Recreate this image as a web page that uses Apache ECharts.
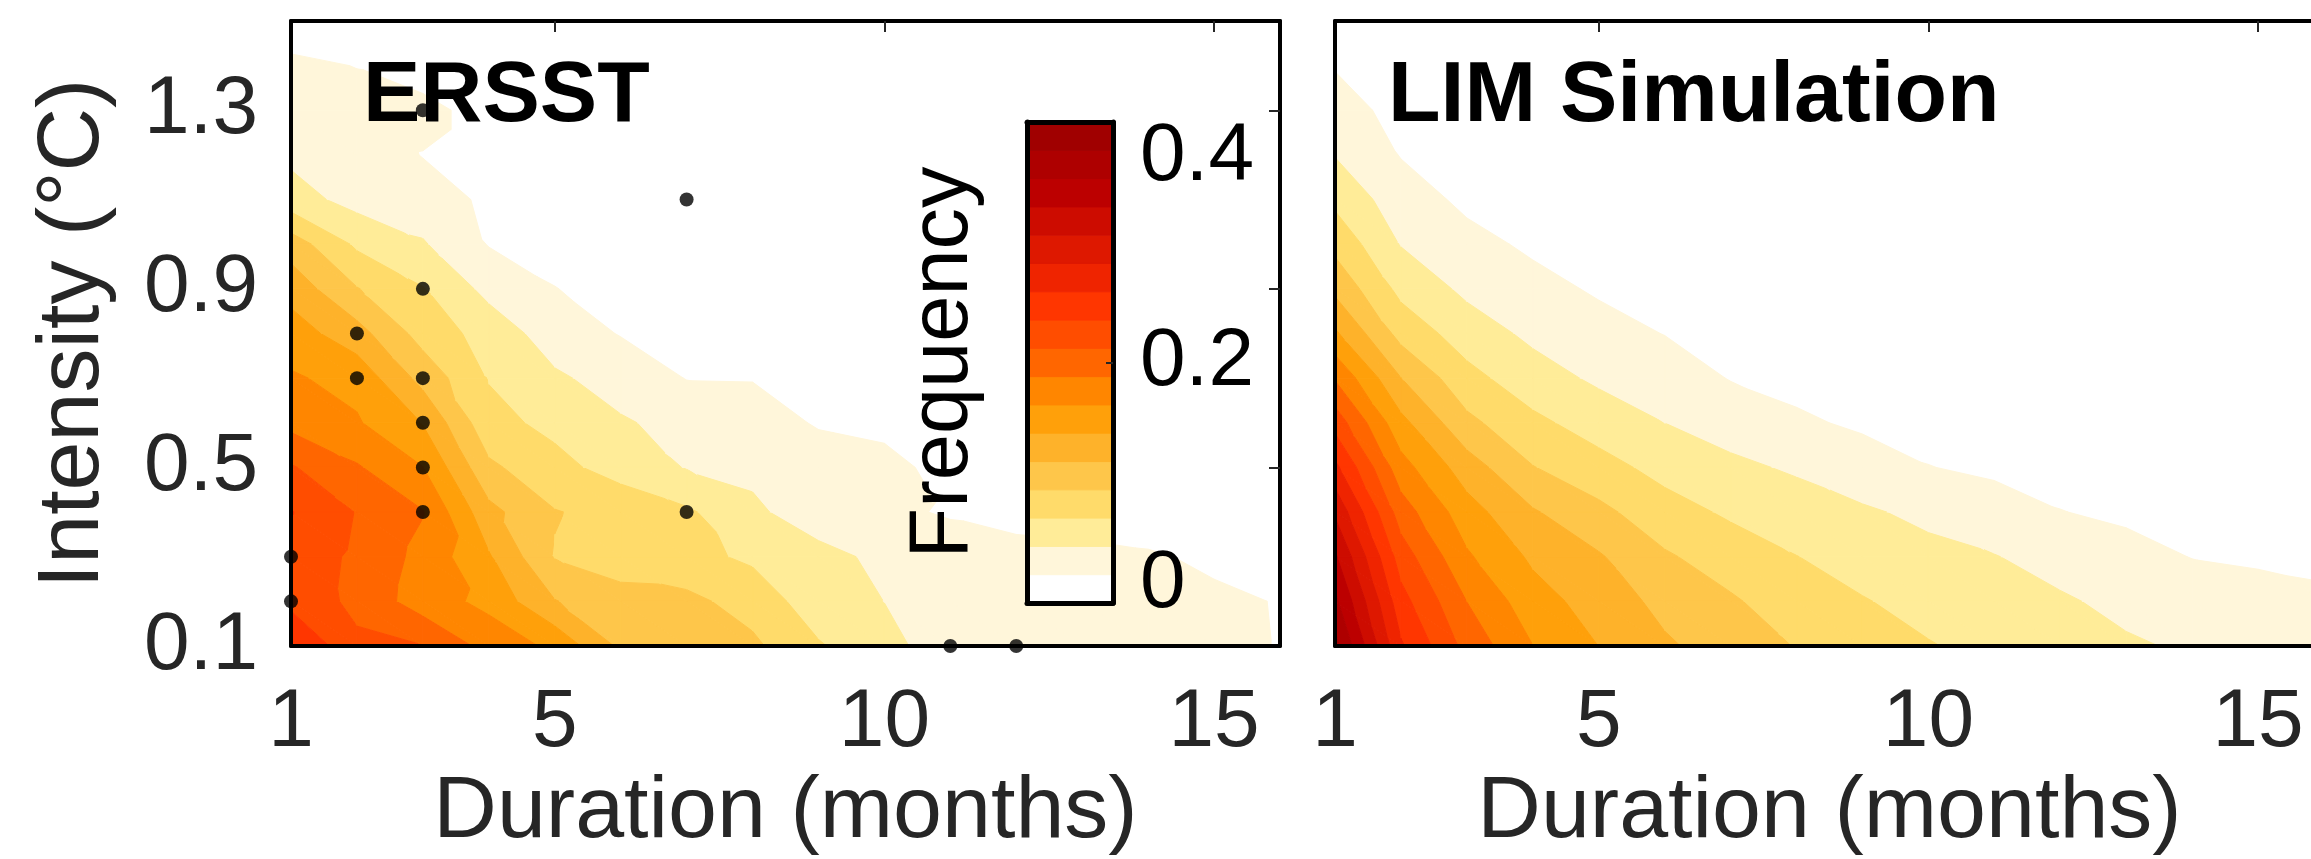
<!DOCTYPE html>
<html>
<head>
<meta charset="utf-8">
<title>ERSST vs LIM event frequency</title>
<script src="https://cdn.jsdelivr.net/npm/echarts@6.0.0/dist/echarts.min.js"></script>
<style>
  html, body { margin: 0; padding: 0; background: #fff; }
  #chart { width: 2311px; height: 859px; }
</style>
</head>
<body>
<div id="chart"></div>
<script>
// grid of the contour fields
var durations = [1, 2, 3, 4, 5, 6, 7, 8, 9, 10, 11, 12, 13, 14, 15, 16];
var intensities = [0.1, 0.2, 0.3, 0.4, 0.5, 0.6, 0.7, 0.8, 0.9, 1.0, 1.1, 1.2, 1.3, 1.4, 1.5];

// frequency, one row per intensity (0.1 first), one column per duration
var ersstFreq = [
  [0.2612, 0.2165, 0.2120, 0.1800, 0.1595, 0.1129, 0.1059, 0.0988, 0.0729, 0.0541, 0.0351, 0.0329, 0.0306, 0.0294, 0.0282, 0.0228],
  [0.2282, 0.2059, 0.1765, 0.1581, 0.1188, 0.1012, 0.1000, 0.0847, 0.0576, 0.0468, 0.0376, 0.0341, 0.0318, 0.0306, 0.0282, 0.0224],
  [0.2259, 0.2075, 0.1812, 0.1435, 0.0929, 0.0847, 0.0776, 0.0664, 0.0565, 0.0400, 0.0353, 0.0329, 0.0306, 0.0264, 0.0188, 0.0118],
  [0.2365, 0.2106, 0.1894, 0.1247, 0.0953, 0.0864, 0.0741, 0.0529, 0.0304, 0.0282, 0.0212, 0.0141, 0.0118, 0.0094, 0.0071, 0.0047],
  [0.2141, 0.1906, 0.1652, 0.0988, 0.0776, 0.0612, 0.0459, 0.0400, 0.0365, 0.0318, 0.0141, 0.0094, 0.0071, 0.0059, 0.0047, 0.0024],
  [0.1812, 0.1671, 0.1398, 0.0776, 0.0647, 0.0494, 0.0400, 0.0353, 0.0212, 0.0165, 0.0118, 0.0071, 0.0047, 0.0035, 0.0024, 0.0024],
  [0.1673, 0.1574, 0.1096, 0.0694, 0.0506, 0.0376, 0.0228, 0.0224, 0.0141, 0.0094, 0.0071, 0.0047, 0.0024, 0.0024, 0.0012, 0.0012],
  [0.1529, 0.1268, 0.0847, 0.0612, 0.0353, 0.0224, 0.0188, 0.0141, 0.0094, 0.0071, 0.0047, 0.0024, 0.0024, 0.0012, 0.0012, 0],
  [0.1322, 0.0953, 0.0718, 0.0400, 0.0240, 0.0165, 0.0118, 0.0094, 0.0071, 0.0047, 0.0024, 0.0024, 0.0012, 0.0012, 0, 0],
  [0.1066, 0.0664, 0.0492, 0.0224, 0.0165, 0.0118, 0.0094, 0.0071, 0.0047, 0.0024, 0.0024, 0.0012, 0.0012, 0, 0, 0],
  [0.0567, 0.0388, 0.0329, 0.0200, 0.0118, 0.0094, 0.0071, 0.0047, 0.0024, 0.0024, 0.0012, 0.0012, 0, 0, 0, 0],
  [0.0421, 0.0353, 0.0228, 0.0141, 0.0094, 0.0071, 0.0047, 0.0024, 0.0024, 0.0012, 0.0012, 0, 0, 0, 0, 0],
  [0.0353, 0.0329, 0.0306, 0.0141, 0.0094, 0.0071, 0.0047, 0.0024, 0.0012, 0.0012, 0, 0, 0, 0, 0, 0],
  [0.0294, 0.0228, 0.0118, 0.0094, 0.0071, 0.0047, 0.0024, 0.0012, 0.0012, 0, 0, 0, 0, 0, 0, 0],
  [0.0071, 0.0047, 0.0047, 0.0024, 0.0024, 0.0012, 0.0012, 0, 0, 0, 0, 0, 0, 0, 0, 0]
];

var limFreq = [
  [0.385, 0.262, 0.204, 0.165, 0.141, 0.121, 0.107, 0.093, 0.082, 0.072, 0.064, 0.057, 0.050, 0.044, 0.039, 0.035],
  [0.359, 0.244, 0.188, 0.151, 0.131, 0.111, 0.097, 0.082, 0.072, 0.063, 0.056, 0.050, 0.041, 0.034, 0.030, 0.027],
  [0.333, 0.224, 0.168, 0.137, 0.120, 0.097, 0.083, 0.071, 0.061, 0.053, 0.048, 0.038, 0.030, 0.023, 0.021, 0.019],
  [0.302, 0.200, 0.151, 0.120, 0.100, 0.080, 0.067, 0.058, 0.050, 0.042, 0.032, 0.024, 0.020, 0.017, 0.015, 0.013],
  [0.265, 0.174, 0.129, 0.095, 0.079, 0.063, 0.052, 0.044, 0.034, 0.024, 0.020, 0.017, 0.014, 0.012, 0.011, 0.009],
  [0.226, 0.148, 0.100, 0.076, 0.060, 0.047, 0.037, 0.027, 0.020, 0.017, 0.014, 0.012, 0.010, 0.009, 0.008, 0.007],
  [0.186, 0.118, 0.078, 0.057, 0.043, 0.035, 0.0225, 0.017, 0.014, 0.012, 0.010, 0.009, 0.007, 0.006, 0.005, 0.005],
  [0.145, 0.086, 0.059, 0.042, 0.031, 0.023, 0.016, 0.012, 0.010, 0.008, 0.007, 0.006, 0.005, 0.004, 0.004, 0.003],
  [0.112, 0.064, 0.042, 0.030, 0.021, 0.016, 0.011, 0.008, 0.007, 0.006, 0.005, 0.004, 0.004, 0.003, 0.003, 0.002],
  [0.087, 0.046, 0.030, 0.020, 0.015, 0.012, 0.008, 0.006, 0.005, 0.004, 0.003, 0.003, 0.003, 0.002, 0.002, 0.002],
  [0.065, 0.034, 0.019, 0.014, 0.011, 0.008, 0.006, 0.004, 0.003, 0.003, 0.002, 0.002, 0.002, 0.001, 0.001, 0.001],
  [0.046, 0.0225, 0.013, 0.010, 0.008, 0.006, 0.004, 0.003, 0.002, 0.002, 0.002, 0.001, 0.001, 0.001, 0.001, 0.001],
  [0.0335, 0.016, 0.009, 0.007, 0.005, 0.004, 0.003, 0.002, 0.002, 0.001, 0.001, 0.001, 0.001, 0.001, 0.001, 0.001],
  [0.022, 0.010, 0.006, 0.005, 0.004, 0.003, 0.002, 0.001, 0.001, 0.001, 0.001, 0.001, 0, 0, 0, 0],
  [0.014, 0.006, 0.004, 0.003, 0.002, 0.002, 0.001, 0.001, 0.001, 0.001, 0, 0, 0, 0, 0, 0]
];

// observed events marked with dots on the ERSST panel: [duration, intensity]
var ersstEvents = [
  [3, 1.3], [7, 1.1], [3, 0.9], [2, 0.8], [2, 0.7], [3, 0.7], [3, 0.6],
  [3, 0.5], [3, 0.4], [7, 0.4], [1, 0.3], [1, 0.2], [11, 0.1], [12, 0.1]
];

// 17 filled levels between 0 and 0.4
var bandColors = [
  '#ffffff', '#fff6da', '#ffec98', '#ffdb6a', '#fec64a', '#feb22a', '#ffa00a', '#ff8600', '#ff6600',
  '#ff4d00', '#ff3600', '#ef2400', '#de1800', '#cd0c00', '#bc0000', '#ae0000', '#a00000'
];
var freqMax = 0.4;
var durationTicks = [1, 5, 10, 15];
var intensityTicks = [0.1, 0.5, 0.9, 1.3];
var freqTicks = [0, 0.2, 0.4];

var levelStep = freqMax / bandColors.length;
var FONT = '"Liberation Sans", Arial, Helvetica, sans-serif';
var GRAY = '#262626';

// split every grid cell in two triangles: [x, y, f] x 3
function buildTriangles(field) {
  var tris = [];
  for (var j = 0; j < intensities.length - 1; j++) {
    for (var i = 0; i < durations.length - 1; i++) {
      var x0 = durations[i], x1 = durations[i + 1];
      var y0 = intensities[j], y1 = intensities[j + 1];
      var a = field[j][i], b = field[j][i + 1], c = field[j + 1][i + 1], d = field[j + 1][i];
      tris.push([x0, y0, a, x1, y0, b, x0, y1, d]);
      tris.push([x1, y0, b, x1, y1, c, x0, y1, d]);
    }
  }
  return tris;
}

function clipByLevel(poly, level, keepAbove) {
  var out = [];
  for (var i = 0; i < poly.length; i++) {
    var p = poly[i], q = poly[(i + 1) % poly.length];
    var pIn = keepAbove ? p.f >= level : p.f < level;
    var qIn = keepAbove ? q.f >= level : q.f < level;
    if (pIn) out.push(p);
    if (pIn !== qIn) {
      var t = (level - p.f) / (q.f - p.f);
      out.push({ x: p.x + t * (q.x - p.x), y: p.y + t * (q.y - p.y), f: level });
    }
  }
  return out;
}

// filled contour pieces of one triangle
function renderContour(params, api) {
  var pts = [];
  for (var k = 0; k < 3; k++) {
    pts.push({ x: api.value(3 * k), y: api.value(3 * k + 1), f: api.value(3 * k + 2) });
  }
  var fmin = Math.min(pts[0].f, pts[1].f, pts[2].f);
  var fmax = Math.max(pts[0].f, pts[1].f, pts[2].f);
  var children = [];
  for (var b = 1; b < bandColors.length; b++) {
    var lo = b * levelStep, hi = (b + 1) * levelStep;
    if (fmax < lo) break;
    if (b < bandColors.length - 1 && fmin >= hi) continue;
    var poly = clipByLevel(pts, lo, true);
    if (b < bandColors.length - 1) poly = clipByLevel(poly, hi, false);
    if (poly.length < 3) continue;
    children.push({
      type: 'polygon',
      silent: true,
      shape: { points: poly.map(function (p) { return api.coord([p.x, p.y]); }) },
      style: { fill: bandColors[b], stroke: bandColors[b], lineWidth: 1 }
    });
  }
  return { type: 'group', children: children };
}

function renderColorbar(params, api) {
  var p0 = api.coord([0, api.value(0)]);
  var p1 = api.coord([1, api.value(1)]);
  var c = bandColors[api.value(2)];
  return {
    type: 'rect',
    shape: { x: p0[0], y: p1[1], width: p1[0] - p0[0], height: p0[1] - p1[1] },
    style: { fill: c, stroke: c, lineWidth: 1 }
  };
}

var frameLine = { show: true, onZero: false, lineStyle: { color: '#000', width: 4 } };

function bottomAxis(gridIndex) {
  return {
    gridIndex: gridIndex, type: 'value', min: 1, max: 16, interval: 1, z: 5,
    name: 'Duration (months)', nameLocation: 'middle', nameGap: 118,
    nameTextStyle: { fontSize: 88, color: GRAY, fontFamily: FONT },
    axisLine: frameLine, axisTick: { show: false }, splitLine: { show: false },
    axisLabel: {
      margin: 36, fontSize: 82, color: GRAY, fontFamily: FONT,
      customValues: durationTicks,
      formatter: function (v) { return durationTicks.indexOf(v) >= 0 ? String(v) : ''; }
    }
  };
}

function topAxis(gridIndex) {
  return {
    gridIndex: gridIndex, type: 'value', position: 'top', min: 1, max: 16, interval: 1, z: 5,
    axisLine: frameLine, splitLine: { show: false }, axisLabel: { show: false },
    axisTick: { show: true, inside: true, length: 11, customValues: [5, 10, 15], lineStyle: { color: GRAY, width: 2 } }
  };
}

var data_ersst = buildTriangles(ersstFreq);
var data_lim = buildTriangles(limFreq);
var data_cbar = bandColors.map(function (c, k) { return [k * levelStep, (k + 1) * levelStep, k]; });

var option = {
  animation: false,
  backgroundColor: '#fff',
  textStyle: { fontFamily: FONT },
  title: [
    { text: 'ERSST', left: 363, top: 54, padding: 0, textStyle: { fontSize: 86, fontWeight: 'bold', color: '#000', fontFamily: FONT } },
    { text: 'LIM Simulation', left: 1388, top: 54, padding: 0, textStyle: { fontSize: 86, fontWeight: 'bold', color: '#000', fontFamily: FONT } }
  ],
  grid: [
    { left: 291, top: 21, width: 989, height: 625, outerBoundsMode: 'none' },
    { left: 1335, top: 21, width: 989, height: 625, outerBoundsMode: 'none' },
    { left: 1027, top: 122, width: 86, height: 481, outerBoundsMode: 'none' }
  ],
  xAxis: [
    bottomAxis(0), topAxis(0), bottomAxis(1), topAxis(1),
    { gridIndex: 2, type: 'value', min: 0, max: 1, z: 5, axisLine: { show: true, onZero: false, lineStyle: { color: '#000', width: 5 } },
      axisTick: { show: false }, axisLabel: { show: false }, splitLine: { show: false } },
    { gridIndex: 2, type: 'value', position: 'top', min: 0, max: 1, z: 5, axisLine: { show: true, onZero: false, lineStyle: { color: '#000', width: 5 } },
      axisTick: { show: false }, axisLabel: { show: false }, splitLine: { show: false } }
  ],
  yAxis: [
    {
      gridIndex: 0, type: 'value', min: 0.1, max: 1.5, interval: 0.1, z: 5,
      name: 'Intensity (\u00b0C)', nameLocation: 'middle', nameGap: 173, nameRotate: 90,
      nameTextStyle: { fontSize: 88, color: GRAY, fontFamily: FONT },
      axisLine: frameLine, axisTick: { show: false }, splitLine: { show: false },
      axisLabel: {
        margin: 33, fontSize: 82, color: GRAY, fontFamily: FONT,
        customValues: intensityTicks,
        formatter: function (v) {
          for (var i = 0; i < intensityTicks.length; i++) {
            if (Math.abs(v - intensityTicks[i]) < 1e-6) return v.toFixed(1);
          }
          return '';
        }
      }
    },
    {
      gridIndex: 0, type: 'value', position: 'right', min: 0.1, max: 1.5, interval: 0.1, z: 5,
      axisLine: frameLine, splitLine: { show: false }, axisLabel: { show: false },
      axisTick: { show: true, inside: true, length: 11, customValues: [0.5, 0.9, 1.3], lineStyle: { color: GRAY, width: 2 } }
    },
    {
      gridIndex: 1, type: 'value', min: 0.1, max: 1.5, interval: 0.1, z: 5,
      axisLine: frameLine, axisTick: { show: false }, axisLabel: { show: false }, splitLine: { show: false }
    },
    {
      gridIndex: 2, type: 'value', min: 0, max: freqMax, interval: 0.2, z: 5,
      name: 'Frequency', nameLocation: 'middle', nameGap: 41, nameRotate: 90,
      nameTextStyle: { fontSize: 83, color: '#000', fontFamily: FONT },
      axisLine: { show: true, onZero: false, lineStyle: { color: '#000', width: 5 } },
      axisTick: { show: false }, axisLabel: { show: false }, splitLine: { show: false }
    },
    {
      gridIndex: 2, type: 'value', position: 'right', min: 0, max: freqMax, interval: 0.2, z: 5,
      axisLine: { show: true, onZero: false, lineStyle: { color: '#000', width: 5 } },
      splitLine: { show: false },
      axisTick: { show: true, inside: true, length: 7, customValues: [0.2], lineStyle: { color: GRAY, width: 2 } },
      axisLabel: {
        margin: 27, color: '#000', fontSize: 82, fontFamily: FONT,
        customValues: freqTicks,
        formatter: function (v) {
          if (Math.abs(v - 0.4) < 1e-6) return '{top|0.4}';
          if (Math.abs(v) < 1e-6) return '{low|0}';
          return '{mid|0.2}';
        },
        rich: {
          top: { fontSize: 82, color: '#000', fontFamily: FONT, padding: [70, 0, 0, 0] },
          mid: { fontSize: 82, color: '#000', fontFamily: FONT },
          low: { fontSize: 82, color: '#000', fontFamily: FONT, padding: [0, 0, 38, 0] }
        }
      }
    }
  ],
  series: [
    { type: 'custom', name: 'ERSST', xAxisIndex: 0, yAxisIndex: 0, renderItem: renderContour, data: data_ersst, clip: true, silent: true, z: 2 },
    { type: 'custom', name: 'LIM Simulation', xAxisIndex: 2, yAxisIndex: 2, renderItem: renderContour, data: data_lim, clip: true, silent: true, z: 2 },
    { type: 'custom', name: 'colorbar', xAxisIndex: 4, yAxisIndex: 3, renderItem: renderColorbar, data: data_cbar, silent: true, z: 3 },
    {
      type: 'scatter', name: 'events', xAxisIndex: 0, yAxisIndex: 0, data: ersstEvents,
      symbolSize: 14, itemStyle: { color: '#000' }, clip: false, silent: true, z: 6
    }
  ]
};

var chart = echarts.init(document.getElementById('chart'), null, { renderer: 'canvas' });
chart.setOption(option);
</script>
</body>
</html>
